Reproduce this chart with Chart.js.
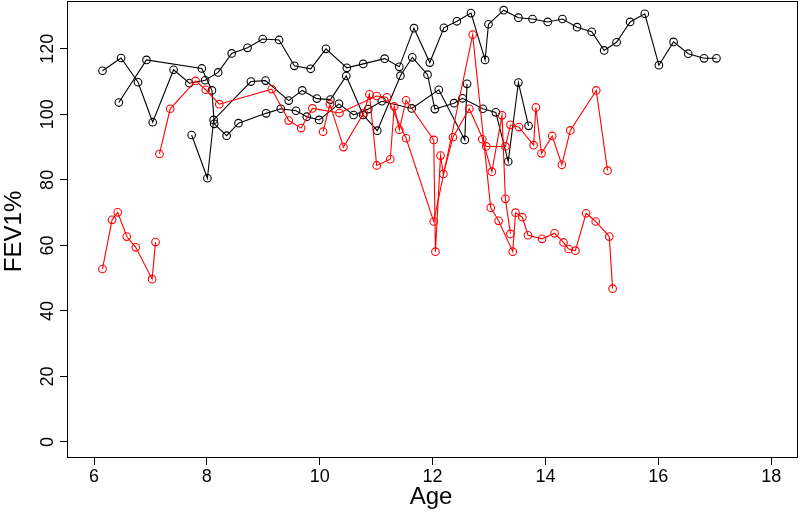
<!DOCTYPE html>
<html>
<head>
<meta charset="utf-8">
<script src="https://cdn.jsdelivr.net/npm/chart.js@4.4.1/dist/chart.umd.min.js"></script>
<style>
  html, body { margin: 0; padding: 0; background: #fff; }
</style>
</head>
<body>
<canvas id="chartCanvas" width="800" height="515"></canvas>
<script>
// FEV1% by age, one line per subject (black / red groups)
const blackAAge = [6.15, 6.48, 6.78, 7.04, 7.41, 7.69, 7.97, 8.20, 8.44, 8.72, 8.99, 9.28, 9.55, 9.84, 10.11, 10.48, 10.77, 11.15, 11.41, 11.67, 11.95, 12.20, 12.43, 12.68, 12.93, 12.99, 13.26, 13.52, 13.77, 14.04, 14.30, 14.56, 14.82, 15.04, 15.26, 15.50, 15.76, 16.01, 16.27, 16.53, 16.81, 17.03];
const blackAFev = [113.3, 117.2, 109.8, 97.6, 113.6, 109.5, 110.4, 112.8, 118.6, 120.3, 123.0, 122.7, 114.8, 113.9, 120.0, 114.2, 115.4, 117.0, 114.5, 126.3, 115.8, 126.4, 128.4, 130.9, 116.6, 127.5, 131.8, 129.5, 129.1, 128.2, 129.1, 126.6, 125.2, 119.5, 122.0, 128.2, 130.7, 115.0, 122.1, 118.5, 117.1, 117.1];

const blackBAge = [7.73, 8.01, 8.12, 8.78, 9.04, 9.45, 9.69, 9.95, 10.19, 10.47, 10.77, 11.02, 11.43, 11.64, 11.91, 12.04, 12.38, 12.53, 12.89, 13.12, 13.34, 13.52, 13.70];
const blackBFev = [93.7, 80.5, 98.3, 110.0, 110.3, 104.2, 107.3, 104.8, 104.5, 111.7, 99.8, 95.0, 111.8, 117.4, 112.1, 101.6, 103.4, 104.9, 101.7, 100.6, 85.6, 109.7, 96.5];

const blackCAge = [6.44, 6.93, 7.91, 8.09, 8.13, 8.35, 8.56, 9.05, 9.31, 9.58, 9.77, 9.99, 10.34, 10.60, 10.86, 11.10, 11.63, 12.11, 12.57, 12.61];
const blackCFev = [103.6, 116.6, 114.0, 107.3, 97.1, 93.5, 97.3, 100.3, 101.7, 101.1, 99.3, 98.3, 103.2, 99.8, 101.6, 104.0, 101.8, 107.5, 92.2, 109.3];

const redAAge = [6.15, 6.32, 6.42, 6.58, 6.74, 7.03, 7.09];
const redAFev = [52.8, 67.8, 70.1, 62.7, 59.4, 49.7, 61.0];

const redBAge = [7.16, 7.35, 7.80, 7.98, 8.22, 9.15, 9.45, 9.67, 9.87, 10.35, 11.01, 11.19, 11.53, 12.02, 12.71, 13.03, 13.17, 13.42, 13.47, 13.59, 13.69, 13.94, 14.16, 14.32, 14.41, 14.53, 14.72, 14.89, 15.13, 15.19];
const redBFev = [87.9, 101.7, 110.2, 107.5, 103.1, 107.7, 98.1, 95.8, 101.8, 100.4, 105.6, 105.2, 92.7, 67.3, 124.3, 71.5, 67.5, 58.1, 70.0, 68.6, 63.1, 62.0, 63.7, 60.9, 58.9, 58.4, 69.8, 67.3, 62.7, 46.8];

const redCAge = [10.06, 10.18, 10.42, 10.78, 10.88, 11.01, 11.25, 11.32, 11.41, 11.53, 12.02, 12.05, 12.14, 12.19, 12.36, 12.65, 12.95, 13.29, 13.38, 13.53, 13.79, 13.83, 13.93, 14.12, 14.29, 14.44, 14.90, 15.10];
const redCFev = [94.7, 103.1, 90.0, 100.4, 106.1, 84.4, 86.3, 102.4, 95.3, 104.3, 92.2, 58.1, 87.4, 81.8, 93.0, 101.7, 90.2, 90.2, 96.8, 96.1, 90.6, 102.1, 88.1, 93.4, 84.6, 95.1, 107.3, 82.8];

const redDAge = [12.88, 13.05, 13.23, 13.29, 13.38];
const redDFev = [92.4, 82.5, 99.7, 74.2, 63.5];

const xTicks = [6, 8, 10, 12, 14, 16, 18];
const yTicks = [0, 20, 40, 60, 80, 100, 120];

// plot box in data units (R's 4% axis extension)
const xBox = [5.52, 18.48];
const yBox = [-4.9, 134.7];

const FONT = '"Liberation Sans", Arial, Helvetica, sans-serif';

function subject(ages, vals, color) {
  return {
    data: ages.map((a, i) => ({ x: a, y: vals[i] })),
    borderColor: color,
    borderWidth: 1.1,
    pointBorderColor: color,
    pointBackgroundColor: 'rgba(0,0,0,0)',
    pointBorderWidth: 1.1,
    pointRadius: 3.8,
    pointHoverRadius: 3.8,
    pointStyle: 'circle',
    fill: false,
    clip: false,
    tension: 0
  };
}

// R-style frame and vertical y tick labels
const rFrame = {
  id: 'rFrame',
  afterDraw(chart) {
    const { ctx, scales } = chart;
    const x0 = Math.round(scales.x.getPixelForValue(xBox[0])) + 0.5;
    const x1 = Math.round(scales.x.getPixelForValue(xBox[1])) - 0.5;
    const y0 = Math.round(scales.y.getPixelForValue(yBox[1])) + 0.5;
    const y1 = Math.round(scales.y.getPixelForValue(yBox[0])) - 0.5;
    ctx.save();
    ctx.strokeStyle = '#000';
    ctx.lineWidth = 1;
    ctx.strokeRect(x0, y0, x1 - x0, y1 - y0);
    ctx.fillStyle = '#000';
    ctx.font = '18px ' + FONT;
    ctx.textAlign = 'center';
    ctx.textBaseline = 'middle';
    yTicks.forEach(v => {
      const py = scales.y.getPixelForValue(v);
      ctx.save();
      ctx.translate(48, py);
      ctx.rotate(-Math.PI / 2);
      ctx.fillText(String(v), 0, 0);
      ctx.restore();
    });
    ctx.restore();
  }
};

const ctx = document.getElementById('chartCanvas').getContext('2d');

new Chart(ctx, {
  type: 'line',
  data: {
    datasets: [
      subject(redAAge, redAFev, '#ff0000'),
      subject(redBAge, redBFev, '#ff0000'),
      subject(redCAge, redCFev, '#ff0000'),
      subject(redDAge, redDFev, '#ff0000'),
      subject(blackAAge, blackAFev, '#000000'),
      subject(blackBAge, blackBFev, '#000000'),
      subject(blackCAge, blackCFev, '#000000')
    ]
  },
  options: {
    responsive: false,
    animation: false,
    layout: { padding: 0 },
    plugins: {
      legend: { display: false },
      tooltip: { enabled: false }
    },
    scales: {
      x: {
        type: 'linear',
        // chart area is inset ~5px on the right by Chart.js point overflow
        min: 5.5214,
        max: 18.4236,
        afterBuildTicks: s => { s.ticks = xTicks.map(v => ({ value: v })); },
        afterFit: s => { s.height = 57; },
        border: { display: false },
        grid: { drawOnChartArea: false, drawTicks: true, tickLength: 7, color: '#000' },
        ticks: {
          color: '#000',
          padding: 1,
          maxRotation: 0,
          font: { size: 18, family: FONT }
        },
        title: {
          display: true,
          text: 'Age',
          color: '#000',
          padding: { top: 0, bottom: 3 },
          font: { size: 24, family: FONT }
        }
      },
      y: {
        type: 'linear',
        min: -4.885,
        max: 133.4,
        afterBuildTicks: s => { s.ticks = yTicks.map(v => ({ value: v })); },
        afterFit: s => { s.width = 67; },
        border: { display: false },
        grid: { drawOnChartArea: false, drawTicks: true, tickLength: 7, color: '#000' },
        ticks: { display: false },
        title: {
          display: true,
          text: 'FEV1%',
          color: '#000',
          padding: { top: 0, bottom: 0 },
          font: { size: 24, family: FONT }
        }
      }
    }
  },
  plugins: [rFrame]
});
</script>
</body>
</html>
